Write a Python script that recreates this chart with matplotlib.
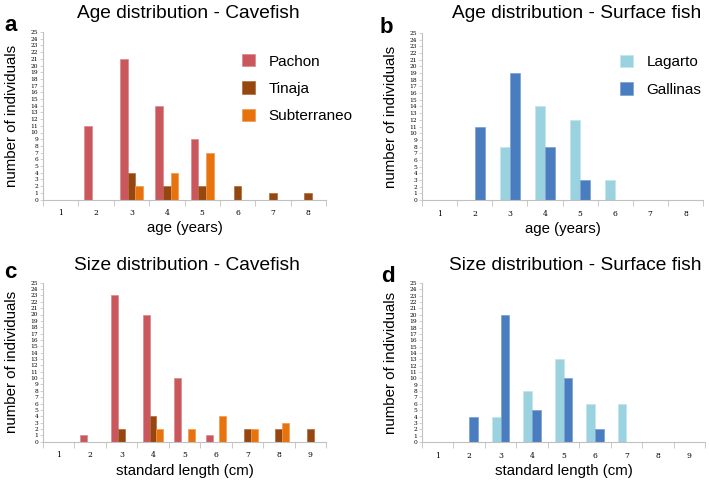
import numpy as np
import matplotlib
matplotlib.use('Agg')
import matplotlib.pyplot as plt

plt.rcParams['font.family'] = ['Liberation Sans', 'DejaVu Sans']

# Data
age_cats = [1, 2, 3, 4, 5, 6, 7, 8]
size_cats = [1, 2, 3, 4, 5, 6, 7, 8, 9]

age_pachon = [0, 11, 21, 14, 9, 0, 0, 0]
age_tinaja = [0, 0, 4, 2, 2, 2, 1, 1]
age_subterraneo = [0, 0, 2, 4, 7, 0, 0, 0]

age_lagarto = [0, 0, 8, 14, 12, 3, 0, 0]
age_gallinas = [0, 11, 19, 8, 3, 0, 0, 0]

size_pachon = [0, 1, 23, 20, 10, 1, 0, 0, 0]
size_tinaja = [0, 0, 2, 4, 0, 0, 2, 2, 2]
size_subterraneo = [0, 0, 0, 2, 2, 4, 2, 3, 0]

size_lagarto = [0, 0, 4, 8, 13, 6, 6, 0, 0]
size_gallinas = [0, 4, 20, 5, 10, 2, 0, 0, 0]

c_pachon = '#c9575b'
c_tinaja = '#96470f'
c_subt = '#e8720c'
c_lagarto = '#9bd2df'
c_gallinas = '#4a7dbf'

W, H = 709, 480
fig = plt.figure(figsize=(W / 100, H / 100), dpi=100)


def make_ax(x0, x1, y0, y1):
    # pixel box -> figure coords
    return fig.add_axes([x0 / W, 1 - y0 / H, (x1 - x0) / W, (y0 - y1) / H])


def px_text(x, y, s, **kw):
    fig.text(x / W, 1 - y / H, s, **kw)


def style(ax, cats, xlabel):
    ax.set_xlim(0.5, len(cats) + 0.5)
    ax.set_ylim(0, 25)
    for s in ['top', 'right']:
        ax.spines[s].set_visible(False)
    for s in ['left', 'bottom']:
        ax.spines[s].set_color('#c0c0c0')
        ax.spines[s].set_linewidth(0.8)
    ax.set_yticks(range(0, 26))
    ax.set_yticklabels([str(i) for i in range(0, 26)], fontsize=4.2, family='DejaVu Serif')
    ax.tick_params(axis='y', length=2.5, width=0.5, color='#c0c0c0', pad=1)
    ax.set_xticks(cats)
    ax.set_xticklabels([str(c) for c in cats], fontsize=5.5, family='DejaVu Serif')
    ax.tick_params(axis='x', length=0, pad=7)
    ax.set_xticks(np.arange(0.5, len(cats) + 1), minor=True)
    ax.tick_params(axis='x', which='minor', length=4, width=0.6, color='#c0c0c0')
    ax.set_xlabel(xlabel, fontsize=10.8, labelpad=3)
    ax.set_ylabel('number of individuals', fontsize=10.8, labelpad=8)


# a
ax = make_ax(43, 326, 199.5, 32)
x = np.array(age_cats)
w = 0.22
ax.bar(x - w, age_pachon, w, color=c_pachon, edgecolor='#d98a8c', linewidth=0.5, label='Pachon')
ax.bar(x, age_tinaja, w, color=c_tinaja, edgecolor='#b06a3a', linewidth=0.5, label='Tinaja')
ax.bar(x + w, age_subterraneo, w, color=c_subt, edgecolor='#f09a50', linewidth=0.5, label='Subterraneo')
style(ax, age_cats, 'age (years)')
ax.legend(loc='upper left', bbox_to_anchor=(0.655, 0.95), frameon=False, fontsize=11,
          handlelength=0.85, handleheight=0.85, labelspacing=0.85, handletextpad=0.9)

# b
ax = make_ax(422, 703, 200, 33)
x = np.array(age_cats)
w = 0.28
ax.bar(x - w / 2, age_lagarto, w, color=c_lagarto, edgecolor='#c0e4ec', linewidth=0.5, label='Lagarto')
ax.bar(x + w / 2, age_gallinas, w, color=c_gallinas, edgecolor='#7aa0d2', linewidth=0.5, label='Gallinas')
style(ax, age_cats, 'age (years)')
ax.legend(loc='upper left', bbox_to_anchor=(0.655, 0.95), frameon=False, fontsize=11,
          handlelength=0.85, handleheight=0.85, labelspacing=0.85, handletextpad=0.9)

# c
ax = make_ax(43, 326, 441.7, 282.7)
x = np.array(size_cats)
w = 0.215
ax.bar(x - w, size_pachon, w, color=c_pachon, edgecolor='#d98a8c', linewidth=0.5)
ax.bar(x, size_tinaja, w, color=c_tinaja, edgecolor='#b06a3a', linewidth=0.5)
ax.bar(x + w, size_subterraneo, w, color=c_subt, edgecolor='#f09a50', linewidth=0.5)
style(ax, size_cats, 'standard length (cm)')

# d
ax = make_ax(422, 705, 442, 283)
x = np.array(size_cats)
w = 0.28
ax.bar(x - w / 2, size_lagarto, w, color=c_lagarto, edgecolor='#c0e4ec', linewidth=0.5)
ax.bar(x + w / 2, size_gallinas, w, color=c_gallinas, edgecolor='#7aa0d2', linewidth=0.5)
style(ax, size_cats, 'standard length (cm)')

# titles and panel letters
tkw = dict(fontsize=13.8, ha='center', va='baseline')
px_text(188, 18, 'Age distribution - Cavefish', **tkw)
px_text(577, 18, 'Age distribution - Surface fish', **tkw)
px_text(187, 270, 'Size distribution - Cavefish', **tkw)
px_text(575, 270, 'Size distribution - Surface fish', **tkw)

lkw = dict(fontsize=16, fontweight='bold', ha='left', va='baseline')
px_text(4, 31, 'a', **lkw)
px_text(380, 33, 'b', **lkw)
px_text(4, 278, 'c', **lkw)
px_text(381, 282, 'd', **lkw)

fig.savefig('out.png', dpi=100)
